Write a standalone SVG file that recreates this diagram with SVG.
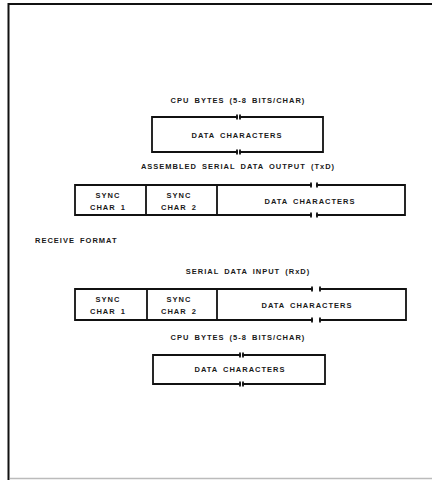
<svg xmlns="http://www.w3.org/2000/svg" width="432" height="480" viewBox="0 0 432 480">
<style>
.ln{fill:none;stroke:#111;stroke-width:1.8;stroke-linecap:square}
.t{font-family:"Liberation Sans",Arial,sans-serif;font-size:7.5px;fill:#1a1a1a;letter-spacing:1px;word-spacing:2px;font-weight:bold}
.m{text-anchor:middle}
</style>
<rect width="432" height="480" fill="#fff"/>
<g id="frame">
<path d="M8.5,480 V4 H432" fill="none" stroke="#111" stroke-width="2"/>
<line x1="10" y1="478.5" x2="432" y2="478.5" stroke="#bbb" stroke-width="1.5"/>
</g>
<g id="label-cpu-top"><text class="t m" x="238" y="103">CPU BYTES (5-8 BITS/CHAR)</text></g>
<g id="box-cpu-top">
<path class="ln" d="M237,117 H152 V152 H237 M240,117 H323 V152 H240"/>
<path class="ln" d="M237,115.5 V118.5 M240,115.5 V118.5 M237,150.5 V153.5 M240,150.5 V153.5"/>
<text class="t m" x="237" y="137.5">DATA CHARACTERS</text>
</g>
<g id="label-txd"><text class="t m" x="238" y="169">ASSEMBLED SERIAL DATA OUTPUT (TxD)</text></g>
<g id="box-txd">
<path class="ln" d="M311,185 H75 V215 H311 M317,185 H405 V215 H317 M146,185 V215 M217,185 V215"/>
<path class="ln" d="M311,183.5 V186.5 M317,183.5 V186.5 M311,213.5 V216.5 M317,213.5 V216.5"/>
<text class="t m" x="108" y="198">SYNC</text>
<text class="t m" x="108" y="210">CHAR 1</text>
<text class="t m" x="179" y="198">SYNC</text>
<text class="t m" x="179" y="210">CHAR 2</text>
<text class="t m" x="310" y="203.5">DATA CHARACTERS</text>
</g>
<g id="label-receive"><text class="t" x="35" y="243">RECEIVE FORMAT</text></g>
<g id="label-rxd"><text class="t m" x="248" y="273.5">SERIAL DATA INPUT (RxD)</text></g>
<g id="box-rxd">
<path class="ln" d="M312,289 H75 V320 H312 M320,289 H406 V320 H320 M147,289 V320 M217,289 V320"/>
<path class="ln" d="M312,287.5 V290.5 M320,287.5 V290.5 M312,318.5 V321.5 M320,318.5 V321.5"/>
<text class="t m" x="108" y="302">SYNC</text>
<text class="t m" x="108" y="314">CHAR 1</text>
<text class="t m" x="179" y="302">SYNC</text>
<text class="t m" x="179" y="314">CHAR 2</text>
<text class="t m" x="307" y="307.5">DATA CHARACTERS</text>
</g>
<g id="label-cpu-bottom"><text class="t m" x="238" y="340">CPU BYTES (5-8 BITS/CHAR)</text></g>
<g id="box-cpu-bottom">
<path class="ln" d="M240,355 H153 V384 H240 M243,355 H325 V384 H243"/>
<path class="ln" d="M240,353.5 V356.5 M243,353.5 V356.5 M240,382.5 V385.5 M243,382.5 V385.5"/>
<text class="t m" x="240" y="372">DATA CHARACTERS</text>
</g>
</svg>
